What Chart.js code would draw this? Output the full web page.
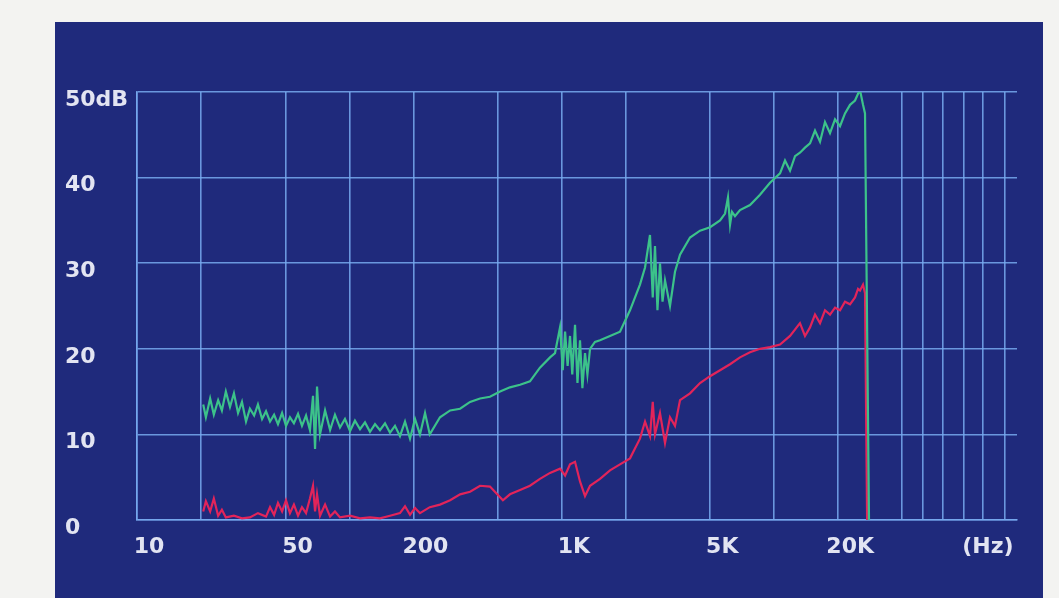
<!DOCTYPE html>
<html>
<head>
<meta charset="utf-8">
<script src="https://cdn.jsdelivr.net/npm/chart.js@4/dist/chart.umd.min.js"></script>
<style>
html, body { margin: 0; padding: 0; background: #f3f3f1; }
#panel { position: absolute; left: 55px; top: 22px; width: 988px; height: 576px; background: #1f2a7c; }
canvas { display: block; }
</style>
</head>
<body>
<div id="panel"><canvas id="resp" width="988" height="576"></canvas></div>
<script>
// frequency response (Hz / dB)
var greenHz = [20.5, 21.1, 22.1, 23.0, 24.1, 25.1, 26.2, 27.4, 28.6, 29.9, 31.2, 32.6, 34.0, 35.6, 37.1, 38.8,
  40.5, 42.3, 44.2, 46.1, 48.2, 50.3, 52.5, 54.8, 57.3, 59.8, 62.5, 65.2, 67.4, 68.9, 70.4, 72.7, 76.8, 81.1,
  85.5, 90.3, 95.3, 100.7, 106.2, 112.2, 118.4, 125, 132, 139.3, 147.1, 155.3, 163.9, 173, 182.7, 192.9, 203.6,
  214.9, 227, 239, 267, 298, 332, 370, 412, 459, 512, 570, 636, 708, 789, 880, 929, 981, 1010, 1036, 1065,
  1093, 1120, 1154, 1185, 1218, 1250, 1286, 1320, 1358, 1433, 1513, 1686, 1879, 2094, 2333, 2465, 2601, 2680,
  2746, 2820, 2899, 2980, 3061, 3231, 3411, 3602, 4014, 4474, 4987, 5558, 5867, 6058, 6194, 6328, 6536, 6900,
  7691, 8573, 9554, 10650, 11240, 11870, 12530, 13220, 13960, 14740, 15560, 16430, 17340, 18310, 19330, 20410,
  21540, 22750, 24010, 24810, 25350, 26190, 26760, 27940];
var greenDb = [13.5, 12.0, 14.2, 12.3, 14.0, 12.8, 15.0, 13.2, 14.8, 12.5, 13.8, 11.5, 13.0, 12.2, 13.5, 11.8,
  12.7, 11.5, 12.3, 11.2, 12.5, 11.0, 12.0, 11.3, 12.4, 11.0, 12.2, 10.5, 14.5, 8.3, 15.6, 10.0, 12.8, 10.5,
  12.3, 10.8, 11.8, 10.4, 11.6, 10.6, 11.4, 10.3, 11.2, 10.5, 11.3, 10.2, 11.0, 9.8, 11.5, 9.5, 11.8,
  10.0, 12.5, 10.0, 12.0, 12.8, 13.0, 13.8, 14.2, 14.4, 15.0, 15.5, 15.8, 16.2, 17.8, 19.0, 19.5, 22.5, 17.5, 22.0, 18.0,
  21.5, 17.0, 22.8, 16.0, 21.0, 15.4, 19.5, 17.0, 20.0, 20.8, 21.0, 21.5, 22.0, 24.5, 27.5, 29.5, 33.3, 26.0,
  32.0, 24.5, 30.0, 25.5, 28.0, 25.0, 29.0, 31.0, 33.0, 33.8, 34.2, 35.0, 35.8, 37.7, 34.5, 36.0, 35.5, 36.2,
  36.8, 38.0, 39.4, 40.5, 42.0, 40.8, 42.5, 42.9, 43.5, 44.0, 45.5, 44.2, 46.5, 45.2, 46.8, 46.0,
  47.5, 48.5, 49.0, 49.8, 50.2, 48.5, 47.5, 0];

var redHz = [20.5, 21.1, 22.1, 23.0, 24.1, 25.1, 26.2, 28.6, 31.2, 34.0, 37.1, 40.5, 42.3, 44.2, 46.1, 48.2,
  50.3, 52.5, 54.8, 57.3, 59.8, 62.5, 65.2, 67.4, 68.9, 70.4, 72.7, 76.8, 81.1, 85.5, 90.3, 100.7, 112.2, 125,
  139.3, 155.3, 173, 182.7, 192.9, 203.6, 214.9, 239, 267, 298, 332, 370, 412, 459, 528, 570, 636, 708, 789,
  880, 981, 1036, 1093, 1154, 1218, 1286, 1358, 1513, 1686, 1879, 2094, 2333, 2465, 2601, 2680, 2746, 2899,
  3061, 3231, 3411, 3602, 4014, 4474, 4987, 5558, 6194, 6900, 7691, 8573, 9554, 10650, 11870, 13220, 13960,
  14740, 15560, 16430, 17340, 18310, 19330, 20410, 21540, 22750, 24010, 24810, 25350, 26190, 26760, 27370];
var redDb = [1.0, 2.2, 1.0, 2.5, 0.5, 1.2, 0.3, 0.5, 0.2, 0.3, 0.8, 0.4, 1.5, 0.6, 2.0, 1.0,
  2.3, 0.8, 1.8, 0.5, 1.5, 0.8, 2.5, 4.0, 1.0, 3.0, 0.5, 1.8, 0.4, 1.0, 0.3, 0.5, 0.2, 0.3,
  0.2, 0.5, 0.8, 1.6, 0.6, 1.4, 0.8, 1.5, 1.8, 2.3, 3.0, 3.3, 4.0, 3.9, 2.3, 3.0, 3.5, 4.0, 4.8,
  5.5, 6.0, 5.2, 6.5, 6.8, 4.5, 2.8, 4.0, 4.8, 5.8, 6.5, 7.2, 9.5, 11.5, 9.8, 13.8, 10.0, 12.5,
  9.0, 12.0, 11.0, 14.0, 14.8, 16.0, 16.8, 17.5, 18.2, 19.0, 19.6, 20.0, 20.2, 20.5, 21.5, 23.0, 21.5,
  22.5, 24.0, 23.0, 24.5, 24.0, 24.8, 24.5, 25.5, 25.2, 26.0, 27.0, 26.8, 27.5, 26.5, 0];

var xTicks = [10, 20, 50, 100, 200, 500, 1000, 2000, 5000, 10000, 20000, 40000, 50000, 62000, 78000, 89000, 96000, 122000];
var xLabels = { 10: '10', 50: '50', 200: '200', 1000: '1K', 5000: '5K', 20000: '20K', 89000: '(Hz)' };
var xLabelOnly = [89000];
var yTicks = [0, 10, 20, 30, 40, 50];
var yLabels = ['0', '10', '20', '30', '40', '50dB'];

var gridCol = 'rgba(120,170,240,0.85)';
var txtCol = '#e2e4f2';
var tickFont = { family: 'DejaVu Sans', size: 22, weight: 'bold' };

function pts(hz, db) {
  return hz.map(function (f, i) { return { x: f, y: db[i] }; });
}

new Chart(document.getElementById('resp').getContext('2d'), {
  type: 'line',
  data: {
    datasets: [
      { label: 'green', data: pts(greenHz, greenDb), borderColor: '#3cc28a', borderWidth: 2.2, pointRadius: 0, tension: 0 },
      { label: 'red', data: pts(redHz, redDb), borderColor: '#e2245a', borderWidth: 2.2, pointRadius: 0, tension: 0 }
    ]
  },
  options: {
    responsive: false,
    animation: false,
    devicePixelRatio: 1,
    layout: { padding: { left: 10, top: 70, right: 26, bottom: 0 } },
    plugins: { legend: { display: false }, tooltip: { enabled: false } },
    scales: {
      x: {
        type: 'logarithmic',
        min: 10,
        max: 139000,
        afterBuildTicks: function (s) { s.ticks = xTicks.map(function (v) { return { value: v }; }); },
        afterFit: function (s) { s.height = 78; },
        grid: {
          color: function (c) { return (c.tick && xLabelOnly.indexOf(c.tick.value) >= 0) ? 'rgba(0,0,0,0)' : gridCol; },
          lineWidth: 1.6,
          drawTicks: false
        },
        border: { color: gridCol, width: 1.6 },
        ticks: {
          autoSkip: false,
          maxRotation: 0,
          padding: 14,
          labelOffset: 12,
          color: txtCol,
          font: tickFont,
          callback: function (v) { return xLabels[v] || ''; }
        }
      },
      y: {
        min: 0,
        max: 50,
        afterBuildTicks: function (s) { s.ticks = yTicks.map(function (v) { return { value: v }; }); },
        afterFit: function (s) { s.width = 72; },
        grid: { color: gridCol, lineWidth: 1.6, drawTicks: false },
        border: { color: gridCol, width: 1.6 },
        ticks: {
          crossAlign: 'far',
          padding: 0,
          labelOffset: 8,
          color: txtCol,
          font: tickFont,
          callback: function (v) { return yLabels[yTicks.indexOf(v)]; }
        }
      }
    }
  }
});
</script>
</body>
</html>
